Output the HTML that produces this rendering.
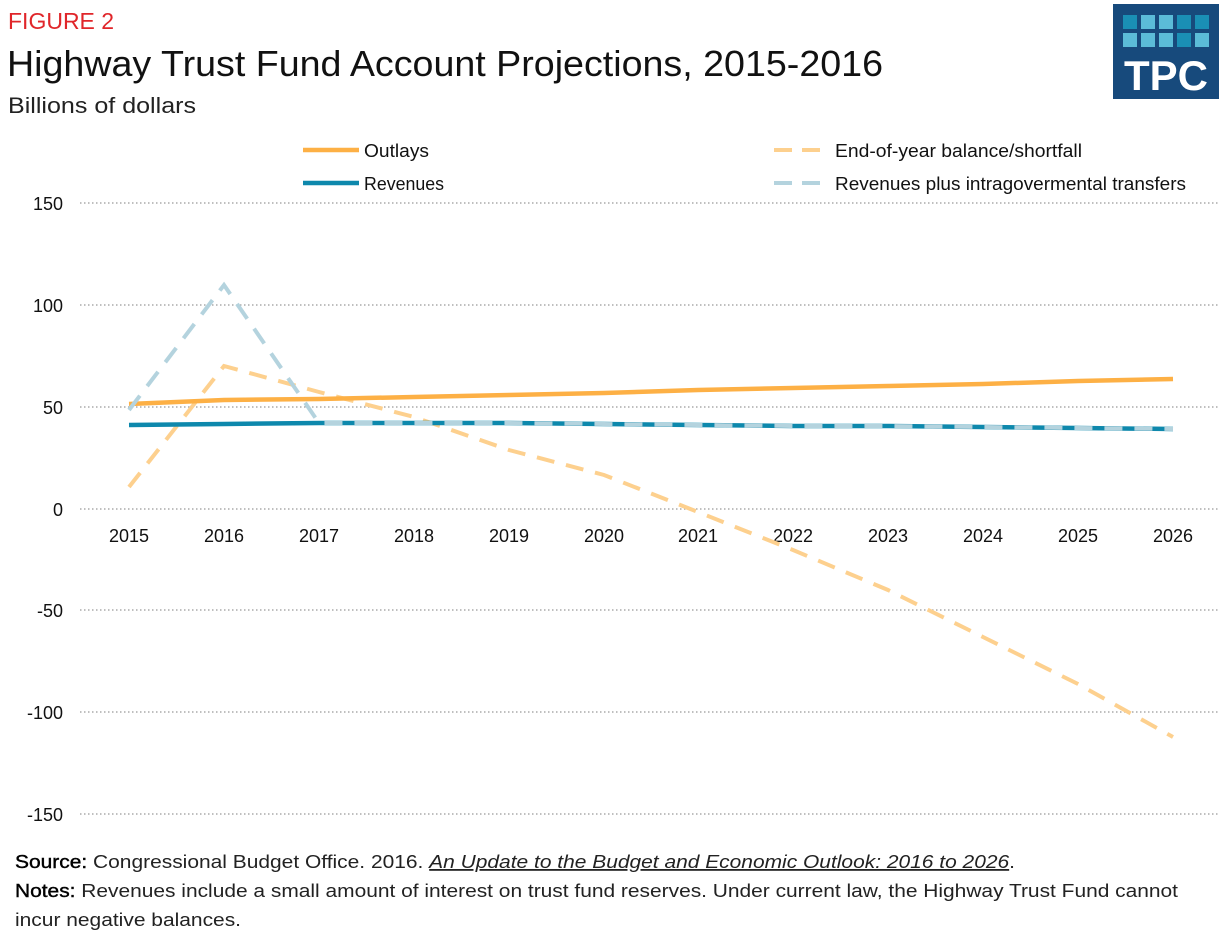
<!DOCTYPE html>
<html><head><meta charset="utf-8"><style>
body{margin:0;background:#fff;width:1230px;height:937px;overflow:hidden;font-family:"Liberation Sans",sans-serif}
</style></head><body>
<svg width="1230" height="937" xmlns="http://www.w3.org/2000/svg" font-family="Liberation Sans, sans-serif">
<text x="8" y="29" font-size="23" fill="#e0262a">FIGURE 2</text>
<text x="7" y="76" font-size="36" fill="#111" textLength="876" lengthAdjust="spacingAndGlyphs">Highway Trust Fund Account Projections, 2015-2016</text>
<text x="8" y="113" font-size="22" fill="#222" textLength="188" lengthAdjust="spacingAndGlyphs">Billions of dollars</text>
<rect x="1113" y="4" width="106" height="95" fill="#174a7c"/>
<g>
<rect x="1123" y="15" width="14" height="14" fill="#1a8fb5"/><rect x="1141" y="15" width="14" height="14" fill="#5bbcd8"/><rect x="1159" y="15" width="14" height="14" fill="#5bbcd8"/><rect x="1177" y="15" width="14" height="14" fill="#1a8fb5"/><rect x="1195" y="15" width="14" height="14" fill="#1a8fb5"/>
<rect x="1123" y="33" width="14" height="14" fill="#5bbcd8"/><rect x="1141" y="33" width="14" height="14" fill="#5bbcd8"/><rect x="1159" y="33" width="14" height="14" fill="#5bbcd8"/><rect x="1177" y="33" width="14" height="14" fill="#1a8fb5"/><rect x="1195" y="33" width="14" height="14" fill="#5bbcd8"/>
</g>
<text x="1166" y="90" font-size="42" font-weight="bold" fill="#fff" text-anchor="middle">TPC</text>
<g stroke="#999" stroke-width="1.3" stroke-dasharray="1.5,2.5">
<line x1="80" y1="203" x2="1220" y2="203"/><line x1="80" y1="305" x2="1220" y2="305"/><line x1="80" y1="407" x2="1220" y2="407"/><line x1="80" y1="509" x2="1220" y2="509"/><line x1="80" y1="610" x2="1220" y2="610"/><line x1="80" y1="712" x2="1220" y2="712"/><line x1="80" y1="814" x2="1220" y2="814"/>
</g>
<g font-size="18" fill="#111" text-anchor="end">
<text x="63" y="210">150</text><text x="63" y="312">100</text><text x="63" y="414">50</text><text x="63" y="516">0</text><text x="63" y="617">-50</text><text x="63" y="719">-100</text><text x="63" y="821">-150</text>
</g>
<g font-size="18" fill="#111" text-anchor="middle">
<text x="129" y="542">2015</text><text x="224" y="542">2016</text><text x="319" y="542">2017</text><text x="414" y="542">2018</text><text x="509" y="542">2019</text><text x="604" y="542">2020</text><text x="698" y="542">2021</text><text x="793" y="542">2022</text><text x="888" y="542">2023</text><text x="983" y="542">2024</text><text x="1078" y="542">2025</text><text x="1173" y="542">2026</text>
</g>
<polyline fill="none" stroke="#fdd08e" stroke-width="4" stroke-dasharray="18,12" points="129,487 224,366 319,392 414,417 509,450 604,475 698,512 793,550 888,590 983,637 1078,684 1173,737"/>
<polyline fill="none" stroke="#fdb045" stroke-width="4.5" points="129,404 224,400 319,399 414,397 509,395 604,393 698,390 793,388 888,386 983,384 1078,381 1173,379"/>
<polyline fill="none" stroke="#0e88ac" stroke-width="4.5" points="129,425 224,424 319,423 414,423 509,423 604,424 698,425 793,426 888,426 983,427 1078,428 1173,429"/>
<polyline fill="none" stroke="#b4d3de" stroke-width="4" stroke-dasharray="18,12" points="129,410 224,285 319,423 414,423 509,423 604,424 698,425 793,426 888,426 983,427 1078,428 1173,429"/>
<line x1="303" y1="150" x2="359" y2="150" stroke="#fdb045" stroke-width="4.5"/>
<text x="364" y="157" font-size="18" fill="#111" textLength="65" lengthAdjust="spacingAndGlyphs">Outlays</text>
<line x1="303" y1="183" x2="359" y2="183" stroke="#0e88ac" stroke-width="4.5"/>
<text x="364" y="190" font-size="18" fill="#111" textLength="80" lengthAdjust="spacingAndGlyphs">Revenues</text>
<line x1="774" y1="150" x2="830" y2="150" stroke="#fdd08e" stroke-width="4" stroke-dasharray="18,10"/>
<text x="835" y="157" font-size="18" fill="#111" textLength="247" lengthAdjust="spacingAndGlyphs">End-of-year balance/shortfall</text>
<line x1="774" y1="183" x2="830" y2="183" stroke="#b4d3de" stroke-width="4" stroke-dasharray="18,10"/>
<text x="835" y="190" font-size="18" fill="#111" textLength="351" lengthAdjust="spacingAndGlyphs">Revenues plus intragovermental transfers</text>
<text x="15" y="868" font-size="18" fill="#222" textLength="1000" lengthAdjust="spacingAndGlyphs"><tspan fill="#000" stroke="#000" stroke-width="0.4">Source:</tspan> Congressional Budget Office. 2016. <tspan font-style="italic" text-decoration="underline">An Update to the Budget and Economic Outlook: 2016 to 2026</tspan>.</text>
<text x="15" y="897" font-size="18" fill="#222" textLength="1163" lengthAdjust="spacingAndGlyphs"><tspan fill="#000" stroke="#000" stroke-width="0.4">Notes:</tspan> Revenues include a small amount of interest on trust fund reserves. Under current law, the Highway Trust Fund cannot</text>
<text x="15" y="926" font-size="18" fill="#222" textLength="226" lengthAdjust="spacingAndGlyphs">incur negative balances.</text>
</svg>
</body></html>
